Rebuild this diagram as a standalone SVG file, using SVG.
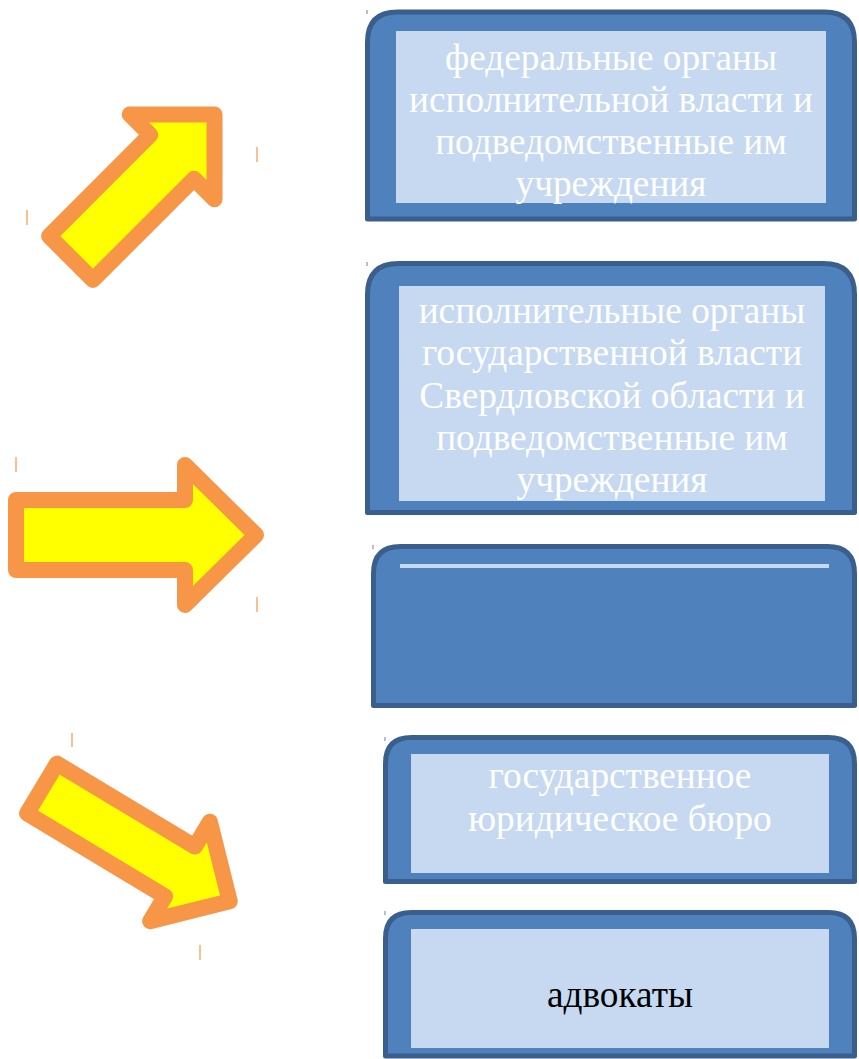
<svg xmlns="http://www.w3.org/2000/svg" width="859" height="1059" viewBox="0 0 859 1059">
<style>
.box{fill:#4f81bd;stroke:#3b5f8c;stroke-width:5;stroke-linejoin:round}
.inner{fill:#c6d9f1}
.arrow{fill:#ffff00;stroke:#f79646;stroke-width:16;stroke-linejoin:round}
.t{font-size:37.3px;text-anchor:middle;fill:#ffffff}
.tb{fill:#000000}
.tick{stroke:#f79646;stroke-width:1.2}
.btick{stroke:#8096b4;stroke-width:1.2}
</style>
<g id="ticks">
<line class="btick" x1="367" y1="10" x2="367" y2="14"/>
<line class="btick" x1="367" y1="262" x2="367" y2="266"/>
<line class="btick" x1="373" y1="545" x2="373" y2="549"/>
<line class="btick" x1="385" y1="737" x2="385" y2="741"/>
<line class="btick" x1="385" y1="911" x2="385" y2="915"/>
<line class="tick" x1="257" y1="147" x2="257" y2="162"/>
<line class="tick" x1="27" y1="210" x2="27" y2="225"/>
<line class="tick" x1="16" y1="457" x2="16" y2="472"/>
<line class="tick" x1="257" y1="597" x2="257" y2="612"/>
<line class="tick" x1="72" y1="733" x2="72" y2="747"/>
<line class="tick" x1="200" y1="945" x2="200" y2="960"/>
</g>
<g id="connectors">
<path id="arrow-up" class="arrow" transform="translate(71,258) rotate(-45)" d="M0,-31 L143,-31 L143,-60 L203,0 L143,60 L143,31 L0,31 Z"/>
<path id="arrow-right" class="arrow" transform="translate(16,535)" d="M0,-35 L169,-35 L169,-70 L240,0 L169,70 L169,35 L0,35 Z"/>
<path id="arrow-down" class="arrow" transform="translate(42,788.5) rotate(31)" d="M0,-29 L161,-29 L161,-58 L219,0 L161,58 L161,29 L0,29 Z"/>
</g>
<g font-family="'Liberation Serif', 'Times New Roman', 'DejaVu Serif', serif">
<g id="node1">
<path class="box" d="M367.5,219 L367.5,42 Q367.5,12 397.5,12 L824.5,12 Q854.5,12 854.5,42 L854.5,219 Z"/>
<rect class="inner" x="396" y="31" width="430" height="172"/>
<text class="t" x="611" y="70">федеральные органы</text>
<text class="t" x="611" y="112">исполнительной власти и</text>
<text class="t" x="611" y="154">подведомственные им</text>
<text class="t" x="611" y="196">учреждения</text>
</g>
<g id="node2">
<path class="box" d="M367.5,512.5 L367.5,294.5 Q367.5,263.5 398.5,263.5 L823.5,263.5 Q854.5,263.5 854.5,294.5 L854.5,512.5 Z"/>
<rect class="inner" x="399" y="286" width="426" height="215"/>
<text class="t" x="612" y="323">исполнительные органы</text>
<text class="t" x="612" y="365">государственной власти</text>
<text class="t" x="612" y="408">Свердловской области и</text>
<text class="t" x="612" y="450">подведомственные им</text>
<text class="t" x="612" y="492">учреждения</text>
</g>
<g id="node3">
<path class="box" d="M373.5,705.5 L373.5,573.5 Q373.5,546.5 400.5,546.5 L827.5,546.5 Q854.5,546.5 854.5,573.5 L854.5,705.5 Z"/>
<rect class="inner" x="400" y="564" width="429" height="4"/>
</g>
<g id="node4">
<path class="box" d="M385.5,881.5 L385.5,763.5 Q385.5,737.5 411.5,737.5 L828.5,737.5 Q854.5,737.5 854.5,763.5 L854.5,881.5 Z"/>
<rect class="inner" x="411" y="754" width="418" height="119"/>
<text class="t" x="620" y="788">государственное</text>
<text class="t" x="620" y="831">юридическое бюро</text>
</g>
<g id="node5">
<path class="box" d="M385.5,1056 L385.5,938.5 Q385.5,912.5 411.5,912.5 L828.5,912.5 Q854.5,912.5 854.5,938.5 L854.5,1056 Z"/>
<rect class="inner" x="411" y="929" width="418" height="119"/>
<text class="t tb" x="620" y="1007">адвокаты</text>
</g>
</g>
</svg>
